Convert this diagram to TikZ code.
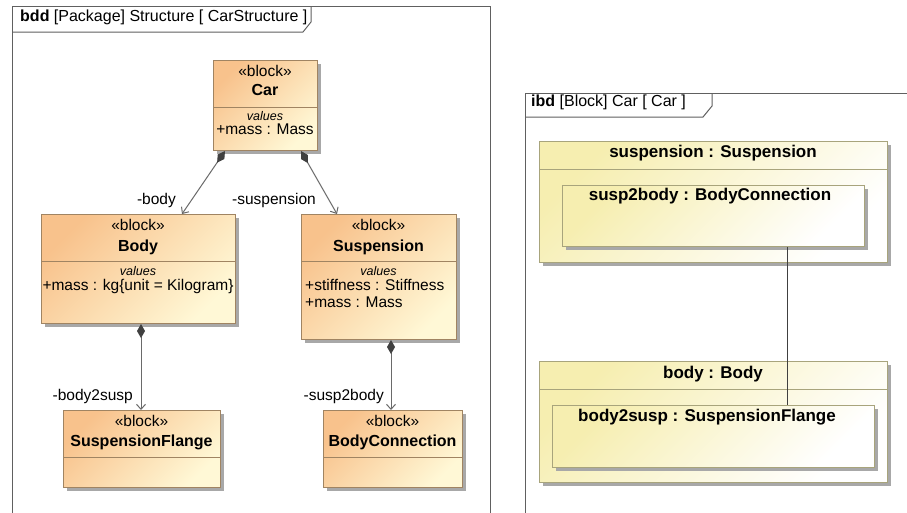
\documentclass[tikz,border=0pt]{standalone}
\usepackage{fontspec}
\setmainfont{Liberation Sans}
\usetikzlibrary{arrows.meta,shadows}
\definecolor{bddtop}{HTML}{F8C28C}
\definecolor{bddbot}{HTML}{FFF8D6}
\definecolor{bddline}{HTML}{A08462}
\definecolor{ibdtop}{HTML}{F6EEB0}
\definecolor{ibdbot}{HTML}{FFFFFF}
\definecolor{ibdline}{HTML}{A8A47C}
\definecolor{frameline}{HTML}{606060}
\definecolor{conn}{HTML}{6A6A6A}
\definecolor{diam}{HTML}{404040}
\definecolor{shadowc}{HTML}{A8A8A8}
\tikzset{
  shadowed/.style={drop shadow={shadow xshift=3pt, shadow yshift=-3pt, fill=shadowc, opacity=1}},
  bddblock/.style={draw=bddline, line width=1pt, top color=bddtop, bottom color=bddbot,
    shading angle=45, inner sep=0pt, anchor=north west, shadowed},
  ibdblock/.style={draw=ibdline, line width=1pt, top color=ibdtop, bottom color=ibdbot,
    shading angle=45, inner sep=0pt, anchor=north west, shadowed},
  bddsep/.style={draw=bddline, line width=1pt},
  ibdsep/.style={draw=ibdline, line width=1pt},
  txt/.style={inner sep=0pt, anchor=mid, font=\fontsize{15.5}{18}\selectfont},
  btxt/.style={txt, font=\fontsize{16}{18}\selectfont\bfseries},
  pbtxt/.style={txt, font=\fontsize{17}{19}\selectfont\bfseries},
  itxt/.style={txt, font=\fontsize{12.5}{15}\selectfont\itshape},
  ttxt/.style={txt, anchor=mid west, font=\fontsize{16}{18}\selectfont},
  frame/.style={draw=frameline, line width=1pt},
  comp/.style={draw=conn, line width=1pt,
    arrows={{Diamond[length=14pt,width=8pt,fill=diam,color=diam]}-{Straight Barb[length=5pt,width=9pt,line width=1pt]}}},
  link/.style={draw=diam, line width=1pt},
}
\begin{document}
\begin{tikzpicture}[x=1pt,y=-1pt]
\useasboundingbox (0,0) rectangle (907,512);
\fill[white] (0,0) rectangle (907,512);
% ---------------- bdd frame ----------------
\draw[frame] (12,530) -- (12,6) -- (490,6) -- (490,530);
\draw[frame] (12,32) -- (303,32) -- (311,22) -- (311,6);
\node[ttxt] (bddtitle) at (20,19) {\textbf{bdd} [Package] Structure [ CarStructure ]};
% blocks
\node[bddblock, minimum width=104pt, minimum height=90pt] (car) at (213,60) {};
\node[bddblock, minimum width=194pt, minimum height=109pt] (body) at (41,214) {};
\node[bddblock, minimum width=155pt, minimum height=125pt] (susp) at (301,214) {};
\node[bddblock, minimum width=157pt, minimum height=77pt] (flange) at (63,410) {};
\node[bddblock, minimum width=139pt, minimum height=77pt] (bconn) at (323,410) {};
% compartments
\draw[bddsep] (car.west |- 0,107) -- (car.east |- 0,107);
\draw[bddsep] (body.west |- 0,261) -- (body.east |- 0,261);
\draw[bddsep] (susp.west |- 0,261) -- (susp.east |- 0,261);
\draw[bddsep] (flange.west |- 0,457) -- (flange.east |- 0,457);
\draw[bddsep] (bconn.west |- 0,457) -- (bconn.east |- 0,457);
% texts
\node[txt] (carst) at (265,74) {«block»};
\node[btxt] (carname) at (265,93) {Car};
\node[itxt] (carval) at (265,118) {values};
\node[txt] (carattr) at (265,132) {+mass : Mass};
\node[txt] (bodyst) at (138,228) {«block»};
\node[btxt] (bodyname) at (138,249) {Body};
\node[itxt] (bodyval) at (138,273) {values};
\node[txt] (bodyattr) at (138,288) {+mass : kg\{unit = Kilogram\}};
\node[txt] (suspst) at (378.5,228) {«block»};
\node[btxt] (suspname) at (378.5,249) {Suspension};
\node[itxt] (suspval) at (378.5,273) {values};
\node[txt, anchor=mid west] (suspattra) at (305,288) {+stiffness : Stiffness};
\node[txt, anchor=mid west] (suspattrb) at (305,305) {+mass : Mass};
\node[txt] (flangest) at (141.5,424) {«block»};
\node[btxt] (flangename) at (141.5,444) {SuspensionFlange};
\node[txt] (bconnst) at (392.5,424) {«block»};
\node[btxt] (bconnname) at (392.5,444) {BodyConnection};
% connectors
\draw[comp] ([xshift=12pt]car.south west) -- ([xshift=141pt]body.north west);
\draw[comp] ([xshift=-17pt]car.south east) -- ([xshift=36pt]susp.north west);
\draw[comp] ([xshift=100pt]body.south west) -- ([xshift=78pt]flange.north west);
\draw[comp] ([xshift=90pt]susp.south west) -- ([xshift=68pt]bconn.north west);
\node[txt, anchor=mid east] (lbody) at (176,202) {-body};
\node[txt, anchor=mid west] (lsusp) at (232,202) {-suspension};
\node[txt, anchor=mid east] (lb2s) at (133,398) {-body2susp};
\node[txt, anchor=mid east] (ls2b) at (384,398) {-susp2body};
% ---------------- ibd frame ----------------
\draw[frame] (525,530) -- (525,93) -- (920,93);
\draw[frame] (525,117) -- (703,117) -- (712,106) -- (712,93);
\node[ttxt] (ibdtitle) at (531,104) {\textbf{ibd} [Block] Car [ Car ]};
\node[ibdblock, minimum width=348pt, minimum height=121pt] (psusp) at (539,141) {};
\draw[ibdsep] (psusp.west |- 0,169) -- (psusp.east |- 0,169);
\node[pbtxt] (psuspname) at (713,155) {suspension : Suspension};
\node[ibdblock, minimum width=302pt, minimum height=61pt] (ps2b) at (562,185) {};
\node[pbtxt] (ps2bname) at (710,198) {susp2body : BodyConnection};
\node[ibdblock, minimum width=348pt, minimum height=121pt] (pbody) at (539,361) {};
\draw[ibdsep] (pbody.west |- 0,389) -- (pbody.east |- 0,389);
\node[pbtxt] (pbodyname) at (713,376) {body : Body};
\node[ibdblock, minimum width=322pt, minimum height=62pt] (pb2s) at (552,405) {};
\node[pbtxt] (pb2sname) at (707,419) {body2susp : SuspensionFlange};
\draw[link] ([xshift=225pt]ps2b.south west) -- ([xshift=235pt]pb2s.north west);
\end{tikzpicture}
\end{document}
